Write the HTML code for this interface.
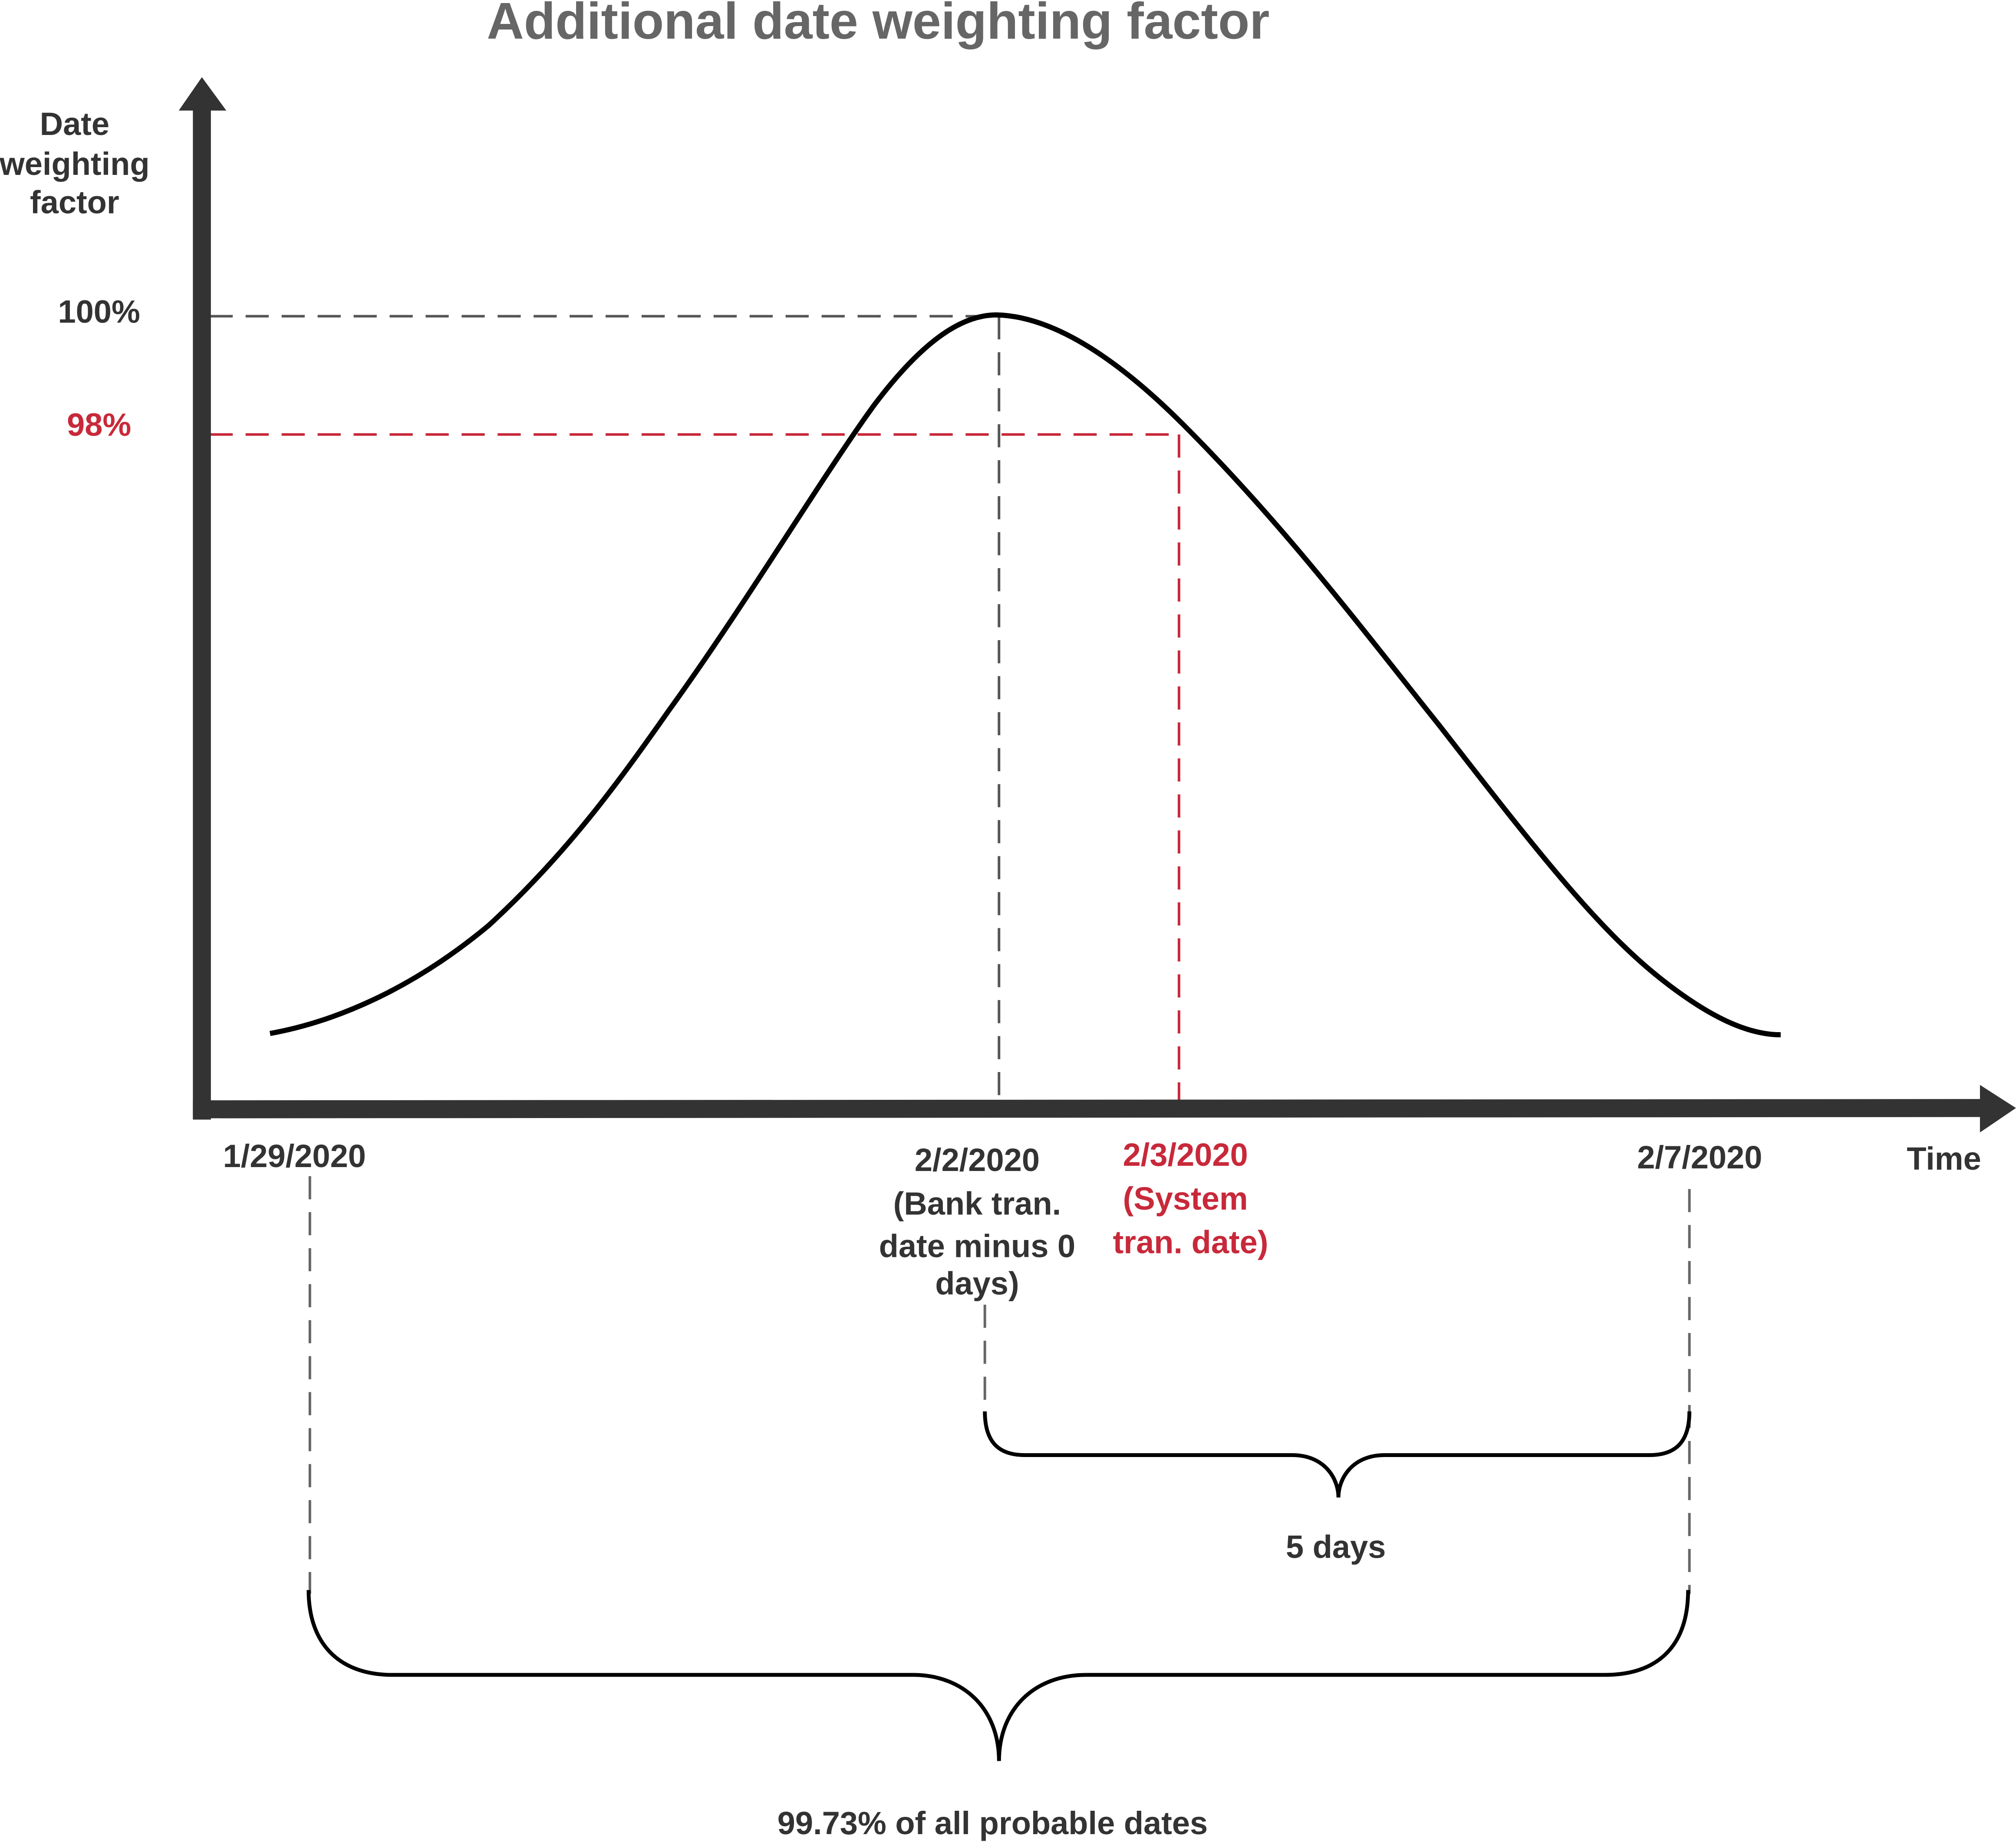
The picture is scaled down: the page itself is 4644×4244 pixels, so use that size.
<!DOCTYPE html>
<html><head><meta charset="utf-8"><style>html,body{margin:0;padding:0;background:#fff}svg{display:block}</style></head>
<body>
<svg width="4644" height="4244" viewBox="0 0 1568 1433" xmlns="http://www.w3.org/2000/svg" font-family="Liberation Sans, sans-serif" font-weight="bold">
<text x="683" y="30" font-size="40" fill="#666" text-anchor="middle">Additional date weighting factor</text>
<g font-size="25" fill="#333" text-anchor="middle">
<text x="58" y="105">Date</text><text x="58" y="136">weighting</text><text x="58" y="166">factor</text>
<text x="77" y="251">100%</text>
<text x="229" y="908">1/29/2020</text>
<text x="760" y="911">2/2/2020</text><text x="760" y="945">(Bank tran.</text><text x="760" y="978">date minus 0</text><text x="760" y="1007">days)</text>
<text x="1322" y="909">2/7/2020</text>
<text x="1512" y="910">Time</text>
<text x="1039" y="1212">5 days</text>
<text x="772" y="1427">99.73% of all probable dates</text>
</g>
<g font-size="25" fill="#c8293a" text-anchor="middle">
<text x="77" y="339">98%</text>
<text x="922" y="907">2/3/2020</text><text x="922" y="941">(System</text><text x="926" y="975">tran. date)</text>
</g>
<g fill="none" stroke-width="2" stroke-dasharray="18,10">
<path d="M163 246H775M777 246V857" stroke="#555"/>
<path d="M163 338H918M917 338V857" stroke="#c8293a"/>
<path d="M241 915V1240M1314 925V1240M766 1015V1100" stroke="#666"/>
</g>
<path d="M210 804 C260 795 320 770 380 720 C440 665 480 610 520 553 C580 470 640 370 680 315 C720 262 750 245 775 245 C820 246 870 280 920 330 C1000 410 1060 490 1120 565 C1190 655 1240 720 1290 760 C1330 792 1360 805 1385 805" fill="none" stroke="#000" stroke-width="4"/>
<g fill="none" stroke="#000" stroke-width="3">
<path d="M766 1098 C766 1120 775 1132 797 1132 H1005 C1030 1132 1041 1150 1041 1165 C1041 1150 1052 1132 1077 1132 H1283 C1305 1132 1314 1120 1314 1098"/>
<path d="M240 1237 C240 1280 265 1303 305 1303 H710 C750 1303 777 1330 777 1370 C777 1330 804 1303 845 1303 H1248 C1290 1303 1313 1280 1313 1237"/>
</g>
<g fill="#333">
<rect x="150" y="84" width="14" height="787"/>
<polygon points="139,86 176,86 157,60"/>
<polygon points="150,856 1542,855 1542,869 150,870"/>
<polygon points="1540,844 1568,862 1540,881"/>
</g>
</svg>
</body></html>
